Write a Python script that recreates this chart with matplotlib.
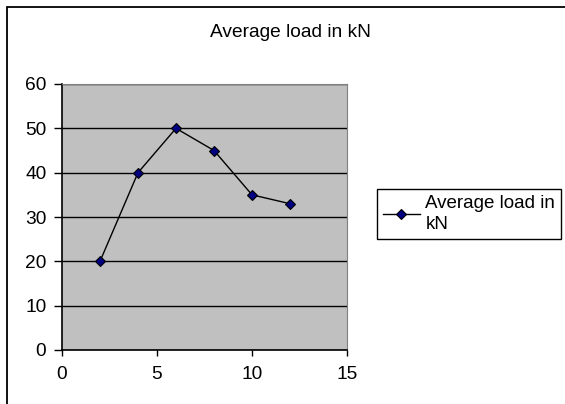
import matplotlib.pyplot as plt
from matplotlib.patches import Rectangle

plt.rcParams['font.family'] = ['Liberation Sans', 'DejaVu Sans']

# Measured average load per step
x_vals = [2, 4, 6, 8, 10, 12]
load_kn = [20, 40, 50, 45, 35, 33]
x_ticks = [0, 5, 10, 15]
y_ticks = [0, 10, 20, 30, 40, 50, 60]

FS = 13.8
W, H = 565, 404
fig = plt.figure(figsize=(W / 100, H / 100), dpi=100)

# chart frame, running off the right and bottom edges
fig.patches.append(Rectangle((7 / W, -0.1), 1.2, 1.1 - 7 / H, transform=fig.transFigure,
                             fill=False, edgecolor='black', linewidth=1.3))

ax = fig.add_axes([62 / W, 1 - 350 / H, (347 - 62) / W, (350 - 84) / H])
ax.set_facecolor('#C0C0C0')
ax.plot(x_vals, load_kn, color='black', linewidth=1, marker='D', markersize=5.5,
        markerfacecolor='#000080', markeredgecolor='black', markeredgewidth=0.8,
        label='Average load in\nkN')

ax.set_xlim(0, 15)
ax.set_ylim(0, 60)
ax.set_xticks(x_ticks)
ax.set_yticks(y_ticks)
ax.yaxis.grid(True, color='black', linewidth=1)
ax.set_axisbelow(True)
ax.tick_params(axis='y', direction='out', length=5.8, width=1, labelsize=FS, pad=5.5)
ax.tick_params(axis='x', direction='out', length=4.3, width=1, labelsize=FS, pad=7.5)

for side in ('top', 'right'):
    ax.spines[side].set_color('#808080')
for side in ('left', 'bottom'):
    ax.spines[side].set_color('black')
    ax.spines[side].set_linewidth(1.2)

fig.text(290.5 / W, 1 - 37 / H, 'Average load in kN', ha='center', va='baseline', fontsize=FS)

leg = fig.legend(loc='upper left', bbox_to_anchor=(377 / W, 1 - 189 / H), fontsize=13.5,
                 fancybox=False, edgecolor='black', framealpha=1, borderaxespad=0,
                 handlelength=2.0, handletextpad=0.28, borderpad=0.3,
                 labelspacing=0.2)
leg.get_frame().set_linewidth(1)
for t in leg.get_texts():
    t.set_linespacing(1.35)

fig.savefig('out.png', dpi=100)
plt.close(fig)
